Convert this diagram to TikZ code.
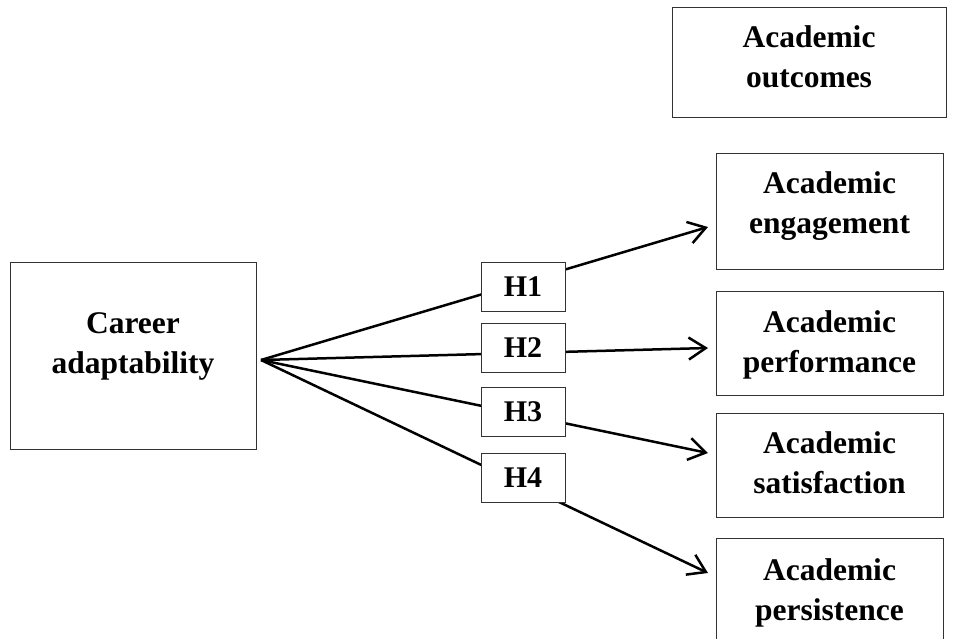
\documentclass[tikz,border=0pt]{standalone}
\usepackage{fontspec}
\setmainfont{Liberation Serif}
\usetikzlibrary{arrows.meta}
\begin{document}
\begin{tikzpicture}[x=1pt,y=-1pt,
  box/.style={draw=black!80, line width=1pt, fill=white, inner sep=0pt},
  lbl/.style={font=\fontsize{31.5}{40}\selectfont\bfseries, align=center, inner sep=0pt},
  hbox/.style={box, minimum width=84pt, minimum height=49pt, font=\fontsize{30}{36}\selectfont\bfseries},
  link/.style={line width=2.5pt, -{Straight Barb[length=17pt,width=22pt]}}]
\useasboundingbox (0,0) rectangle (967,638);
% boxes
\node[box, minimum width=274pt, minimum height=110pt] (out) at (809,62) {};
\node[lbl] (outtext) at (809,57) {Academic\\outcomes};
\node[box, minimum width=227pt, minimum height=116pt] (eng) at (829.5,211) {};
\node[lbl] (engtext) at (829.5,206) {Academic\\engagement};
\node[box, minimum width=227pt, minimum height=104pt] (perf) at (829.5,343.5) {};
\node[lbl] (perftext) at (829.5,345) {Academic\\performance};
\node[box, minimum width=227pt, minimum height=104pt] (sat) at (829.5,465) {};
\node[lbl] (sattext) at (829.5,462.5) {Academic\\satisfaction};
\node[box, minimum width=227pt, minimum height=120pt] (pers) at (829.5,598) {};
\node[lbl] (perstext) at (829.5,593) {Academic\\persistence};
\node[box, minimum width=246pt, minimum height=187pt] (ca) at (133,355.5) {};
\node[lbl] (catext) at (133,346) {Career\\adaptability};
% connectors
\coordinate (src) at (261,360);
\coordinate (t1) at (708,227);
\coordinate (t2) at (708,348);
\coordinate (t3) at (708,453);
\coordinate (t4) at (708,573);
\draw[link] (src) -- (t1);
\draw[link] (src) -- (t2);
\draw[link] (src) -- (t3);
\draw[link] (src) -- (t4);
% hypothesis boxes
\node[hbox] (h1) at (523,286.5) {H1};
\node[hbox] (h2) at (523,347.5) {H2};
\node[hbox] (h3) at (523,411.5) {H3};
\node[hbox] (h4) at (523,477.5) {H4};
\end{tikzpicture}
\end{document}
